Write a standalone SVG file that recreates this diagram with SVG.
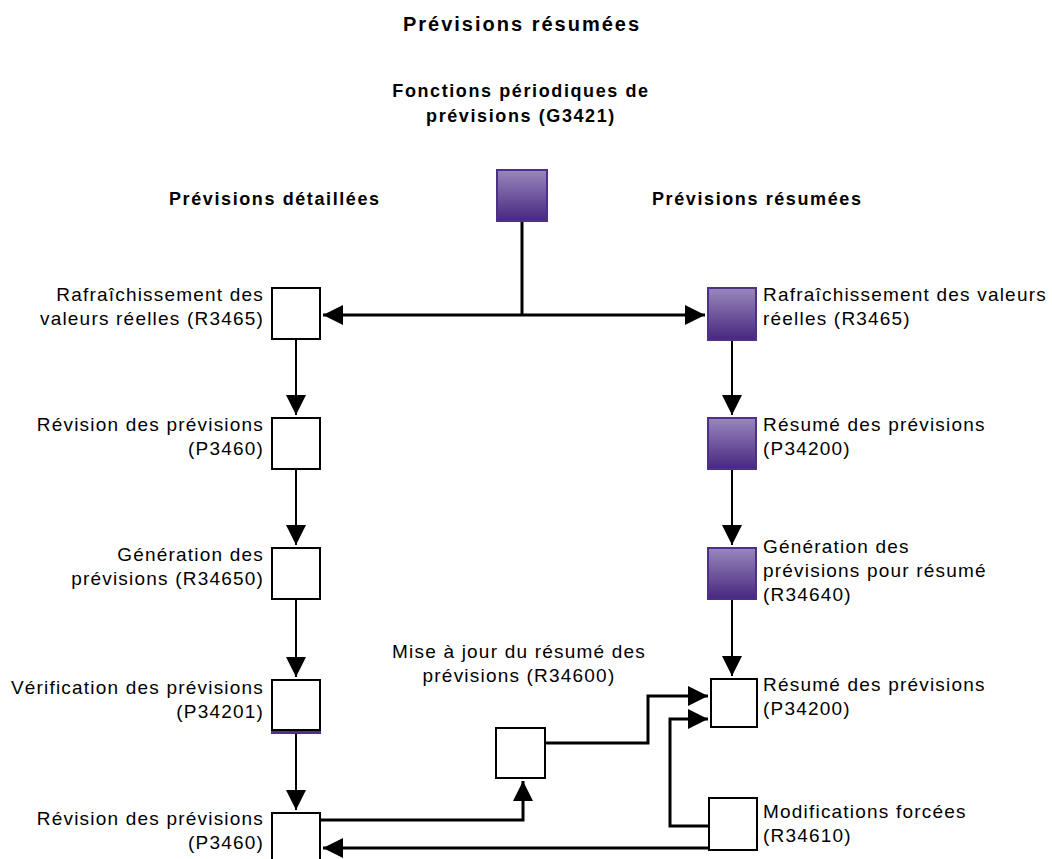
<svg xmlns="http://www.w3.org/2000/svg" width="1052" height="859" viewBox="0 0 1052 859">
  <defs>
    <linearGradient id="pg" x1="0" y1="0" x2="0" y2="1">
      <stop offset="0" stop-color="#9888bd"/>
      <stop offset="1" stop-color="#47277f"/>
    </linearGradient>
    <marker id="ah" viewBox="0 0 20 20" refX="20" refY="10" markerWidth="20" markerHeight="20" markerUnits="userSpaceOnUse" orient="auto">
      <path d="M0,0 L20,10 L0,20 z" fill="#000"/>
    </marker>
  </defs>
  <style>
    .t { font-family: "Liberation Sans", Arial, sans-serif; font-size: 19px; letter-spacing: 1.2px; fill: #000; }
    .b { font-family: "Liberation Sans", Arial, sans-serif; font-size: 18px; font-weight: bold; letter-spacing: 1.6px; fill: #000; }
    .title { font-family: "Liberation Sans", Arial, sans-serif; font-size: 20px; font-weight: bold; letter-spacing: 2px; fill: #000; }
    .end { text-anchor: end; }
    .mid { text-anchor: middle; }
    .wbox { fill: #fff; stroke: #000; stroke-width: 2; }
    .pbox { fill: url(#pg); stroke: #4e3187; stroke-width: 2; }
    .c { fill: none; stroke: #000; stroke-width: 3; }
    .s { fill: none; stroke: #000; stroke-width: 2; }
  </style>

  <text class="title mid" x="522" y="31">Prévisions résumées</text>
  <text class="b mid" x="521" y="97">Fonctions périodiques de</text>
  <text class="b mid" x="521" y="122">prévisions (G3421)</text>
  <text class="b" x="169" y="205">Prévisions détaillées</text>
  <text class="b" x="652" y="205">Prévisions résumées</text>

  <g id="connectors">
    <path class="c" d="M522,222 V315"/>
    <path class="c" d="M522,315 H323" marker-end="url(#ah)"/>
    <path class="c" d="M522,315 H705" marker-end="url(#ah)"/>
    <path class="s" d="M296,340 V415" marker-end="url(#ah)"/>
    <path class="s" d="M296,470 V545" marker-end="url(#ah)"/>
    <path class="s" d="M296,600 V677" marker-end="url(#ah)"/>
    <path class="s" d="M296,734 V810" marker-end="url(#ah)"/>
    <path class="s" d="M732,341 V415" marker-end="url(#ah)"/>
    <path class="s" d="M732,470 V545" marker-end="url(#ah)"/>
    <path class="s" d="M732,600 V676" marker-end="url(#ah)"/>
    <path class="c" d="M321,820 H523 V781" marker-end="url(#ah)"/>
    <path class="c" d="M546,743 H648 V696 H708" marker-end="url(#ah)"/>
    <path class="c" d="M708,826 H670 V719 H708" marker-end="url(#ah)"/>
    <path class="c" d="M708,848 H323" marker-end="url(#ah)"/>
  </g>

  <g id="n-g3421"><rect class="pbox" x="497" y="170" width="50" height="51"/></g>

  <g id="n-l1">
    <rect class="wbox" x="272" y="288" width="48" height="51"/>
    <text class="t end" x="264" y="301">Rafraîchissement des</text>
    <text class="t end" x="264" y="325">valeurs réelles (R3465)</text>
  </g>
  <g id="n-l2">
    <rect class="wbox" x="272" y="418" width="48" height="51"/>
    <text class="t end" x="264" y="431">Révision des prévisions</text>
    <text class="t end" x="264" y="455">(P3460)</text>
  </g>
  <g id="n-l3">
    <rect class="wbox" x="272" y="548" width="48" height="51"/>
    <text class="t end" x="264" y="561">Génération des</text>
    <text class="t end" x="264" y="585">prévisions (R34650)</text>
  </g>
  <g id="n-l4">
    <rect x="271" y="730" width="50" height="4" fill="#4e3187"/>
    <rect class="wbox" x="272" y="680" width="48" height="50"/>
    <text class="t end" x="264" y="694">Vérification des prévisions</text>
    <text class="t end" x="264" y="718">(P34201)</text>
  </g>
  <g id="n-l5">
    <rect class="wbox" x="272" y="813" width="48" height="60"/>
    <text class="t end" x="264" y="825">Révision des prévisions</text>
    <text class="t end" x="264" y="849">(P3460)</text>
  </g>

  <g id="n-r1">
    <rect class="pbox" x="708" y="288" width="48" height="52"/>
    <text class="t" x="763" y="301">Rafraîchissement des valeurs</text>
    <text class="t" x="763" y="325">réelles (R3465)</text>
  </g>
  <g id="n-r2">
    <rect class="pbox" x="708" y="418" width="48" height="51"/>
    <text class="t" x="763" y="431">Résumé des prévisions</text>
    <text class="t" x="763" y="455">(P34200)</text>
  </g>
  <g id="n-r3">
    <rect class="pbox" x="708" y="548" width="48" height="51"/>
    <text class="t" x="763" y="553">Génération des</text>
    <text class="t" x="763" y="577">prévisions pour résumé</text>
    <text class="t" x="763" y="601">(R34640)</text>
  </g>
  <g id="n-r4">
    <rect class="wbox" x="711" y="679" width="46" height="48"/>
    <text class="t" x="763" y="691">Résumé des prévisions</text>
    <text class="t" x="763" y="715">(P34200)</text>
  </g>
  <g id="n-r5">
    <rect class="wbox" x="709" y="798" width="48" height="52"/>
    <text class="t" x="763" y="818">Modifications forcées</text>
    <text class="t" x="763" y="842">(R34610)</text>
  </g>

  <g id="n-mid">
    <rect class="wbox" x="496" y="728" width="49" height="50"/>
    <text class="t mid" x="519" y="658">Mise à jour du résumé des</text>
    <text class="t mid" x="519" y="682">prévisions (R34600)</text>
  </g>
</svg>
